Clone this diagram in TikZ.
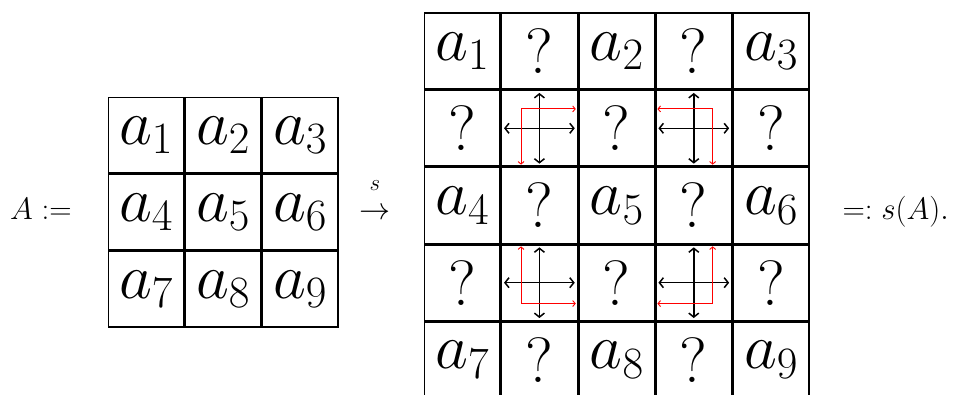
\RequirePackage{fix-cm}
\documentclass[tikz,border=0pt]{standalone}
\usetikzlibrary{arrows.meta,calc}
\begin{document}
\begin{tikzpicture}[x=1pt,y=-1pt,
  cellS/.style={draw,line width=1.5pt,minimum size=75.5pt,inner sep=0pt,outer sep=0pt,font=\fontsize{64}{70}\selectfont},
  cellB/.style={draw,line width=1.5pt,minimum size=75.7pt,inner sep=0pt,outer sep=0pt,font=\fontsize{64}{70}\selectfont},
  lbl/.style={inner sep=0pt,font=\fontsize{31}{36}\selectfont},
  blk/.style={line width=1.5pt,{Straight Barb[length=4pt,width=10pt]}-{Straight Barb[length=4pt,width=10pt]}},
  redarr/.style={red,line width=0.9pt,-{Straight Barb[length=2.5pt,width=6pt]},shorten >=1.5pt}]
\useasboundingbox (0,0) rectangle (954,395);
% left grid
\foreach \r/\c/\t in {1/1/{$a_1$},1/2/{$a_2$},1/3/{$a_3$},2/1/{$a_4$},2/2/{$a_5$},2/3/{$a_6$},3/1/{$a_7$},3/2/{$a_8$},3/3/{$a_9$}}
  \node[cellS] (s\r\c) at ({107.5+77*(\c-0.5)},{96.7+77*(\r-0.5)}) {\t};
% right grid
\foreach \r/\c/\t in {1/1/{$a_1$},1/2/?,1/3/{$a_2$},1/4/?,1/5/{$a_3$},
                      2/1/?,2/2/{},2/3/?,2/4/{},2/5/?,
                      3/1/{$a_4$},3/2/?,3/3/{$a_5$},3/4/?,3/5/{$a_6$},
                      4/1/?,4/2/{},4/3/?,4/4/{},4/5/?,
                      5/1/{$a_7$},5/2/?,5/3/{$a_8$},5/4/?,5/5/{$a_9$}}
  \node[cellB] (b\r\c) at ({423.6+77.2*(\c-0.5)},{12.5+77.2*(\r-0.5)}) {\t};
% black crossing arrows
\foreach \n in {b22,b24,b42,b44} {
  \draw[blk] ([xshift=2.5pt]\n.west) -- ([xshift=-2.5pt]\n.east);
  \draw[blk] ([yshift=-2.5pt]\n.north) -- ([yshift=2.5pt]\n.south);
}
% red L-shaped arrows
\coordinate (k22) at ($(b22.north west)+(19.5,18.5)$);
\coordinate (k24) at ($(b24.north east)+(-19,18.5)$);
\coordinate (k42) at ($(b42.south west)+(19.5,-17)$);
\coordinate (k44) at ($(b44.south east)+(-19,-17)$);
\draw[redarr] (k22) -- (k22 -| b22.east);
\draw[redarr] (k22) -- (k22 |- b22.south);
\draw[redarr] (k24) -- (k24 -| b24.west);
\draw[redarr] (k24) -- (k24 |- b24.south);
\draw[redarr] (k42) -- (k42 -| b42.east);
\draw[redarr] (k42) -- (k42 |- b42.north);
\draw[redarr] (k44) -- (k44 -| b44.west);
\draw[redarr] (k44) -- (k44 |- b44.north);
% labels
\node[lbl,anchor=base west] (defA) at (10,220) {$A:=$};
\node[lbl,anchor=base] (smap) at (374.5,220) {$\to$};
\node[inner sep=0pt,font=\fontsize{23}{28}\selectfont,anchor=base] (slbl) at (375,191) {$s$};
\node[lbl,anchor=base east] (defs) at (949,220) {$=:s(A).$};
\end{tikzpicture}
\end{document}
